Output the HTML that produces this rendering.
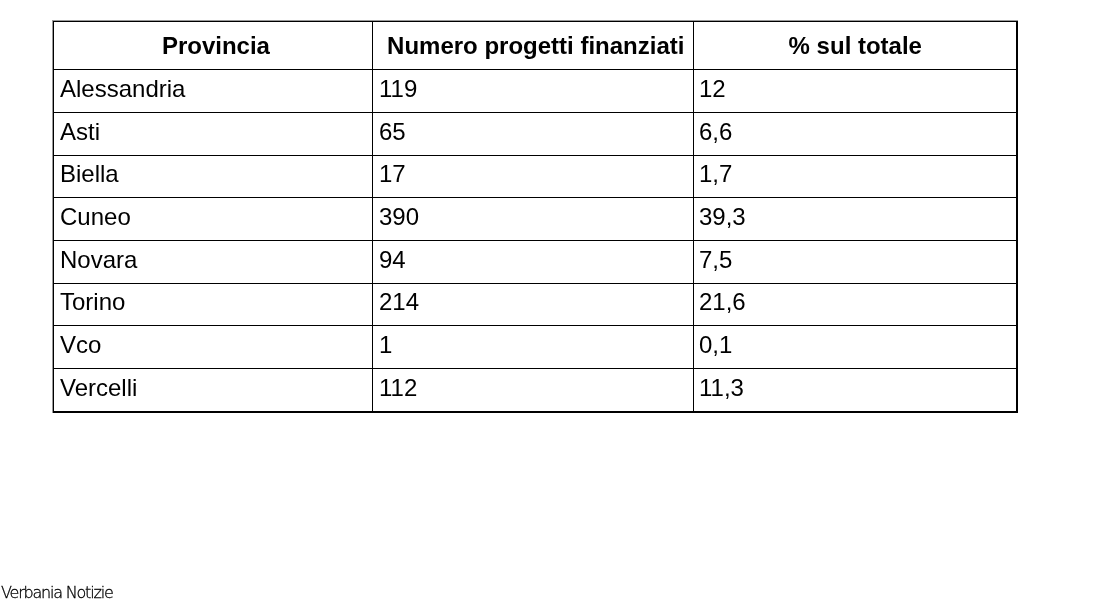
<!DOCTYPE html>
<html lang="it"><head><meta charset="utf-8"><title>Progetti finanziati per provincia</title>
<style>
html,body{margin:0;padding:0;background:#fff;}
body{width:1094px;height:600px;position:relative;overflow:hidden;font-family:"Liberation Sans",Arial,sans-serif;color:#000;}
.wrap{position:absolute;left:52px;top:20px;border-top:1px solid #999;border-left:1px solid #999;will-change:transform;}
table{border-collapse:separate;border-spacing:0;border-top:1px solid #000;border-left:1px solid #000;border-right:2px solid #000;border-bottom:2px solid #000;table-layout:fixed;width:965px;}
th,td{padding:0;margin:0;font-size:24px;line-height:24px;vertical-align:top;box-sizing:border-box;white-space:nowrap;text-align:left;border-right:1px solid #000;border-bottom:1px solid #000;}
th{font-weight:bold;text-align:center;padding-top:12px;height:48px;}
td{padding-top:7px;height:43px;padding-left:6px;}
tr.s td{height:42px;padding-top:6px;}
th:last-child,td:last-child{border-right:0;}
tr:last-child td{border-bottom:0;height:42px;}
td.c3{padding-left:5px;}
col.a{width:319px;}
col.b{width:321px;}
col.c{width:322px;}
.wm{position:absolute;will-change:transform;left:1px;top:585px;font-family:"DejaVu Sans",sans-serif;font-weight:200;font-size:16px;line-height:16px;letter-spacing:-1.2px;color:#000;-webkit-text-stroke:0.3px #000;white-space:nowrap;}
</style></head><body>
<div class="wrap">
<table>
<colgroup><col class="a"><col class="b"><col class="c"></colgroup>
<thead>
<tr><th style="padding-left:5.8px">Provincia</th><th style="padding-left:5.5px">Numero progetti finanziati</th><th style="padding-left:0.6px">% sul totale</th></tr>
</thead>
<tbody>
<tr><td>Alessandria</td><td>119</td><td class="c3">12</td></tr>
<tr><td>Asti</td><td>65</td><td class="c3">6,6</td></tr>
<tr class="s"><td>Biella</td><td>17</td><td class="c3">1,7</td></tr>
<tr><td>Cuneo</td><td>390</td><td class="c3">39,3</td></tr>
<tr><td>Novara</td><td>94</td><td class="c3">7,5</td></tr>
<tr class="s"><td>Torino</td><td>214</td><td class="c3">21,6</td></tr>
<tr><td>Vco</td><td>1</td><td class="c3">0,1</td></tr>
<tr><td>Vercelli</td><td>112</td><td class="c3">11,3</td></tr>
</tbody>
</table>
</div>
<div class="wm">Verbania Notizie</div>
</body></html>
